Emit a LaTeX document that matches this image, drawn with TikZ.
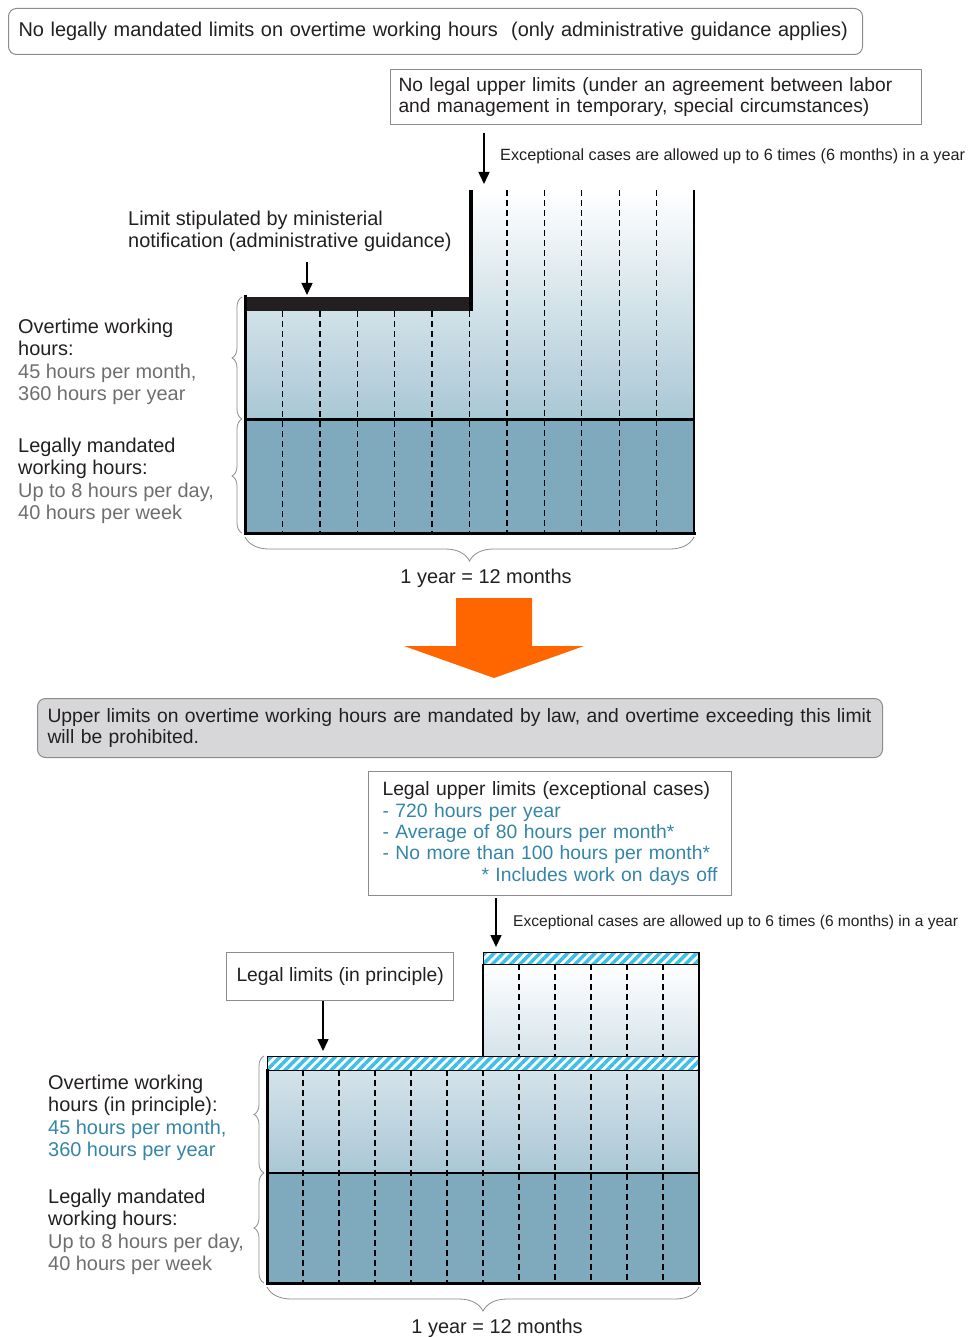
\documentclass[tikz,border=0pt]{standalone}
\usepackage{fontspec}
\setmainfont{Liberation Sans}
\usetikzlibrary{arrows.meta,decorations.pathreplacing,patterns.meta}

\definecolor{lowblue}{HTML}{7FA9BD}
\definecolor{upblue}{HTML}{A9C7D5}
\definecolor{paleblue}{HTML}{D5E3EA}
\definecolor{hatchcyan}{HTML}{3CBFE8}
\definecolor{greytext}{HTML}{6D6E70}
\definecolor{tealtext}{HTML}{3585A8}
\definecolor{darktext}{HTML}{231F20}
\definecolor{boxgrey}{HTML}{D7D7D9}
\definecolor{rimgrey}{HTML}{8C8C8C}
\definecolor{bigarrow}{HTML}{FF6600}

\newcommand{\fsz}[2]{\fontsize{#1}{#2}\selectfont}

\begin{document}
\begin{tikzpicture}
	[x=1bp,y=-1bp,>={Triangle[length=12bp,width=11bp]},
		txt/.style={inner sep=0pt,align=left,text=darktext,font=\fsz{20}{22.6}},
		limbox/.style={draw=rimgrey,line width=1bp,inner xsep=10bp,align=left,text=darktext},
		brc/.style={draw=rimgrey,line width=0.8bp,decorate,decoration={brace,amplitude=#1}},
		dash col/.style={dash pattern=on 6bp off 4bp,line width=1.4bp},
		edge line/.style={line width=3bp,line cap=rect},
		hatch/.style={pattern={Lines[angle=45,distance=6.5bp,line width=3.5bp]},pattern color=hatchcyan},
		pointer/.style={->,line width=1.5bp,shorten <=#1}]

	\useasboundingbox (0,0) rectangle (968,1337);

	% before: administrative guidance only
	\node[limbox,rounded corners=8bp,anchor=north west,text width=834bp,minimum height=46bp,font=\fsz{20}{22}] (oldhead) at (8,8) {No legally mandated limits on overtime working hours\ \ (only administrative guidance applies)};
	\node[limbox,anchor=north west,text width=515bp,inner xsep=8bp,minimum height=55bp,font=\fsz{19.3}{22}] (nolimit) at (390,69) {No legal upper limits (under an agreement between labor\\and management in temporary, special circumstances)};
	\node[txt,anchor=west,font=\fsz{16.3}{18}] (excA) at (500,156) {Exceptional cases are allowed up to 6 times (6 months) in a year};
	\node[txt,anchor=south west] (minA) at (128,252) {Limit stipulated by ministerial\\notification (administrative guidance)};

	\shade[top color=white,bottom color=upblue] (245,311) -- (471,311) -- (471,190) -- (694,190) -- (694,419) -- (245,419) -- cycle;
	\fill[lowblue] (245,419) rectangle (694,533);
	\foreach \k in {1,...,6} \draw[dash col] ({245+37.42*\k},311) -- ({245+37.42*\k},533);
	\foreach \k in {7,...,11} \draw[dash col] ({245+37.42*\k},190) -- ({245+37.42*\k},533);
	\fill[darktext] (245,297) rectangle (473,311);
	\draw[line width=4bp] (471,190) -- (471,311);
	\draw[edge line] (245,297) -- (245,533) -- (694,533);
	\draw[line width=2.5bp] (694,190) -- (694,533);
	\draw[line width=3bp] (245,419) -- (694,419);

	\coordinate (capA) at (484,184);
	\coordinate (barA) at (307,295);
	\draw[pointer=8bp] (nolimit.south -| capA) -- (capA);
	\draw[pointer=10bp] (minA.south -| barA) -- (barA);

	\node[txt,anchor=west] (otA) at (18,362) {Overtime working\\hours:\\\textcolor{greytext}{45 hours per month,}\\\textcolor{greytext}{360 hours per year}};
	\node[txt,anchor=west] (lawA) at (18,481) {Legally mandated\\working hours:\\\textcolor{greytext}{Up to 8 hours per day,}\\\textcolor{greytext}{40 hours per week}};
	\draw[brc=10bp] (242,419) -- (242,297);
	\draw[brc=10bp] (242,533) -- (242,419);
	\draw[brc=24bp] (694,537) -- (245,537);
	\node[txt] (yearA) at (486,578) {1 year = 12 months};

	% change
	\fill[bigarrow] (456,598) -- (532,598) -- (532,646) -- (584,646) -- (494,678) -- (404,646) -- (456,646) -- cycle;

	% after: limits mandated by law
	\node[limbox,fill=boxgrey,rounded corners=8bp,anchor=north west,text width=825bp,minimum height=59bp,font=\fsz{19.4}{22}] (newhead) at (37,698) {Upper limits on overtime working hours are mandated by law, and overtime exceeding this limit\\will be prohibited.};
	\node[limbox,anchor=north west,text width=335bp,inner xsep=14bp,minimum height=124bp,font=\fsz{19.4}{21.5}] (upper) at (368,771) {Legal upper limits (exceptional cases)\\\textcolor{tealtext}{- 720 hours per year}\\\textcolor{tealtext}{- Average of 80 hours per month*}\\\textcolor{tealtext}{- No more than 100 hours per month*}\\\hspace*{\fill}\textcolor{tealtext}{* Includes work on days off}};
	\node[txt,anchor=west,font=\fsz{15.6}{18}] (excB) at (513,922) {Exceptional cases are allowed up to 6 times (6 months) in a year};
	\node[limbox,anchor=north west,minimum width=227bp,minimum height=48bp,font=\fsz{19.4}{21}] (principle) at (226,952) {Legal limits (in principle)};

	\shade[top color=white,bottom color=paleblue] (483,964) rectangle (699,1056);
	\shade[top color=paleblue,bottom color=upblue] (267,1070) rectangle (699,1173);
	\fill[lowblue] (267,1173) rectangle (699,1283);
	\foreach \k in {1,...,6} \draw[dash col] ({267+36*\k},1070) -- ({267+36*\k},1283);
	\foreach \k in {7,...,11} \draw[dash col] ({267+36*\k},964) -- ({267+36*\k},1283);
	\draw[line width=1bp,preaction={fill=white},hatch] (483,952) rectangle (699,964);
	\draw[line width=1bp,preaction={fill=white},hatch] (267,1056) rectangle (699,1070);
	\draw[line width=2.5bp] (483,964) -- (483,1056);
	\draw[line width=2.5bp] (699,952) -- (699,1283);
	\draw[edge line] (267,1070) -- (267,1283) -- (699,1283);
	\draw[line width=2.5bp] (267,1173) -- (699,1173);

	\coordinate (capB) at (496,947);
	\coordinate (barB) at (323,1051);
	\draw[pointer=2bp] (upper.south -| capB) -- (capB);
	\draw[pointer=0bp] (principle.south -| barB) -- (barB);

	\node[txt,anchor=west] (otB) at (48,1118) {Overtime working\\hours (in principle):\\\textcolor{tealtext}{45 hours per month,}\\\textcolor{tealtext}{360 hours per year}};
	\node[txt,anchor=west] (lawB) at (48,1232) {Legally mandated\\working hours:\\\textcolor{greytext}{Up to 8 hours per day,}\\\textcolor{greytext}{40 hours per week}};
	\draw[brc=10bp] (264,1173) -- (264,1056);
	\draw[brc=10bp] (264,1283) -- (264,1173);
	\draw[brc=24bp] (699,1287) -- (267,1287);
	\node[txt] (yearB) at (497,1328) {1 year = 12 months};

\end{tikzpicture}
\end{document}
